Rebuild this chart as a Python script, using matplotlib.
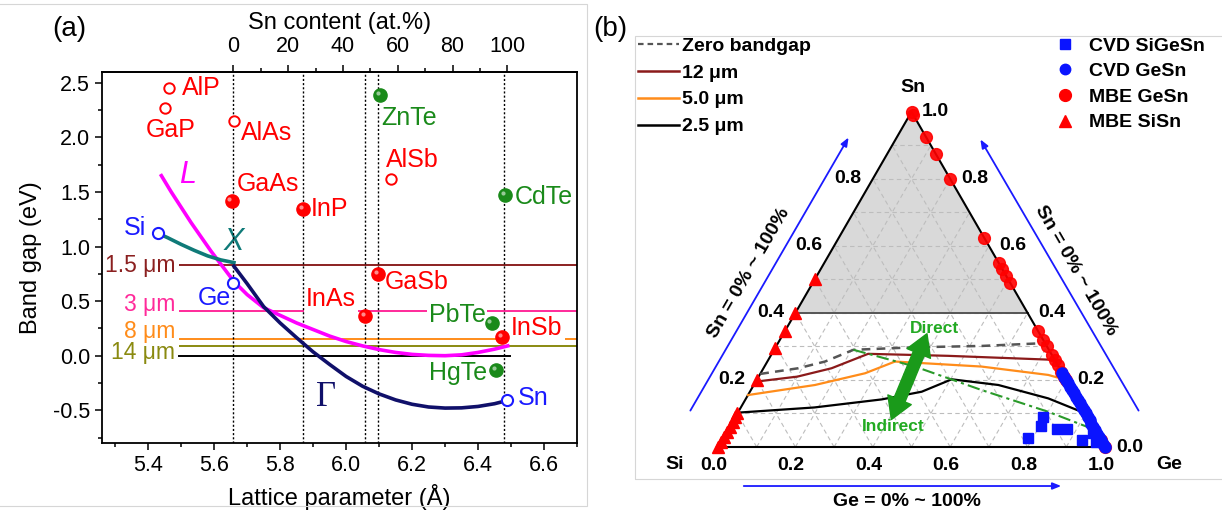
import numpy as np
import matplotlib.pyplot as plt
from matplotlib.lines import Line2D
from matplotlib.patches import Polygon, Rectangle
from matplotlib.transforms import ScaledTranslation

plt.rcParams['font.family'] = ['Liberation Sans', 'DejaVu Sans']
plt.rcParams['axes.unicode_minus'] = False

# --- Panel (a): binary compounds (lattice parameter in A, band gap in eV) ---
compounds = ["AlP", "GaP", "AlAs", "GaAs", "InP", "ZnTe", "AlSb", "CdTe",
             "GaSb", "InAs", "PbTe", "InSb", "HgTe"]
lattice = [5.464, 5.451, 5.661, 5.653, 5.869, 6.104, 6.136, 6.482,
           6.096, 6.058, 6.441, 6.472, 6.455]
gap = [2.45, 2.27, 2.15, 1.42, 1.34, 2.39, 1.62, 1.47,
       0.75, 0.36, 0.30, 0.17, -0.13]
kind = ["open", "open", "open", "III-V", "III-V", "II-VI", "open", "II-VI",
        "III-V", "III-V", "II-VI", "III-V", "II-VI"]

group4 = ["Si", "Ge", "Sn"]
group4_lattice = [5.431, 5.658, 6.489]
group4_gap = [1.12, 0.668, -0.405]

# GeSn band edges
L_a = [5.44, 5.47, 5.50, 5.53, 5.56, 5.59, 5.62, 5.66, 5.70, 5.75, 5.80, 5.85,
       5.90, 5.95, 6.00, 6.05, 6.10, 6.15, 6.20, 6.25, 6.30, 6.35, 6.40, 6.45, 6.49]
L_e = [1.65, 1.50, 1.36, 1.22, 1.09, 0.96, 0.84, 0.68, 0.56, 0.44, 0.37, 0.30,
       0.24, 0.18, 0.13, 0.09, 0.056, 0.03, 0.012, 0.003, 0.0, 0.008, 0.03, 0.06, 0.09]
X_a = [5.431, 5.46, 5.50, 5.54, 5.58, 5.62, 5.66]
X_e = [1.12, 1.08, 1.02, 0.965, 0.915, 0.878, 0.853]
G_a = [5.66, 5.70, 5.75, 5.80, 5.85, 5.90, 5.95, 6.00, 6.05, 6.10, 6.15, 6.20,
       6.25, 6.30, 6.35, 6.40, 6.45, 6.489]
G_e = [0.82, 0.66, 0.45, 0.30, 0.165, 0.035, -0.08, -0.19, -0.28, -0.35, -0.405,
       -0.445, -0.47, -0.48, -0.478, -0.465, -0.44, -0.41]

# wavelength cut-off lines
wl_labels = ["1.5 μm", "3 μm", "8 μm", "14 μm"]
wl_energy = [0.827, 0.413, 0.155, 0.089]
wl_colors = ["#8b2020", "#ff2a9a", "#ff8c1a", "#8a8a10"]

# lattice-matched guide lines
vlines = [5.658, 5.869, 6.058, 6.096, 6.479]

# --- Panel (b): ternary SiGeSn (Ge fraction, Sn fraction) ---
zero_ge = [0.0, 0.09, 0.149, 0.205, 0.36, 0.53, 0.69]
zero_sn = [0.218, 0.235, 0.255, 0.29, 0.2975, 0.3015, 0.31]
um12_ge = [0.0, 0.10, 0.176, 0.249, 0.459, 0.74]
um12_sn = [0.195, 0.21, 0.235, 0.278, 0.272, 0.26]
um5_ge = [0.0, 0.158, 0.27, 0.33, 0.561, 0.746, 0.80]
um5_sn = [0.155, 0.185, 0.22, 0.255, 0.24, 0.215, 0.20]
um25_ge = [0.0, 0.19, 0.352, 0.444, 0.503, 0.632, 0.781, 0.90]
um25_sn = [0.1025, 0.118, 0.142, 0.165, 0.202, 0.185, 0.145, 0.10]
dirind_ge = [0.205, 0.389, 0.596, 0.801, 0.949]
dirind_sn = [0.29, 0.24, 0.17, 0.105, 0.051]

cvd_sigesn_ge = [0.787, 0.796, 0.803, 0.848, 0.874, 0.929, 0.949, 0.970]
cvd_sigesn_sn = [0.026, 0.089, 0.063, 0.055, 0.055, 0.021, 0.041, 0.016]
cvd_gesn_sn = [0.0, 0.01, 0.02, 0.03, 0.04, 0.05, 0.06, 0.07, 0.08, 0.09, 0.10, 0.11,
               0.12, 0.13, 0.14, 0.15, 0.16, 0.17, 0.18, 0.19, 0.20, 0.21, 0.22]
mbe_gesn_sn = [0.0, 0.02, 0.20, 0.21, 0.225, 0.245, 0.26, 0.275, 0.30, 0.32, 0.345,
               0.49, 0.51, 0.53, 0.55, 0.625, 0.80, 0.875, 0.925, 0.99, 1.0]
mbe_sisn_sn = [0.0, 0.015, 0.03, 0.045, 0.06, 0.075, 0.09, 0.10, 0.20, 0.295,
               0.345, 0.40, 0.50]


def tern(ge, sn):
    ge = np.asarray(ge, dtype=float)
    sn = np.asarray(sn, dtype=float)
    return ge + 0.5 * sn, sn * np.sqrt(3) / 2


W, H = 1222, 513
fig = plt.figure(figsize=(W / 100, H / 100), dpi=100)

# light frames around both panels
fig.patches.append(Rectangle((-2 / W, 1 - 506 / H), 589 / W, 502 / H, transform=fig.transFigure,
                             fill=False, ec="#d6d6d6", lw=0.8))
fig.patches.append(Rectangle((635 / W, 1 - 479 / H), 600 / W, 443 / H, transform=fig.transFigure,
                             fill=False, ec="#d6d6d6", lw=0.8))

# =================== panel (a) ===================
ax = fig.add_axes([102 / W, 1 - 443 / H, 475 / W, 371 / H])
ax.set_xlim(5.26, 6.70)
ax.set_ylim(-0.8, 2.6)

for x in vlines:
    ax.axvline(x, color="black", ls=(0, (1.5, 1.5)), lw=1.0, zorder=4)

for e, c in zip(wl_energy, wl_colors):
    ax.plot([5.494, 6.70], [e, e], color=c, lw=1.4, zorder=1, solid_capstyle="butt")
ax.plot([5.494, 6.497], [0, 0], color="black", lw=1.4, zorder=1)

ax.plot(L_a, L_e, color="#ff00ff", lw=2.6, zorder=5)
ax.plot(X_a, X_e, color="#0f7a78", lw=2.6, zorder=5)
ax.plot(G_a, G_e, color="#10106a", lw=2.6, zorder=5)

hl = ax.transData + ScaledTranslation(-1.6 / 72, 1.6 / 72, fig.dpi_scale_trans)
for a, e, k in zip(lattice, gap, kind):
    if k == "open":
        ax.plot(a, e, "o", ms=7.5, mfc="white", mec="red", mew=1.4, zorder=6)
    else:
        col = "red" if k == "III-V" else "#1a8a1a"
        ax.plot(a, e, "o", ms=9.5, mfc=col, mec=col, zorder=6)
        ax.plot(a, e, "o", ms=3, mfc="white", mec="none", alpha=0.55, zorder=7, transform=hl)
ax.plot(group4_lattice, group4_gap, "o", ls="none", ms=8, mfc="white", mec="#1a1aff", mew=1.5, zorder=7)

red, green, blue = "red", "#1a8a1a", "#1a1aff"
lab_fs = 18
wbox = dict(fc="white", ec="none", pad=1.5)
text_a = [
    ("AlP", 5.503, 2.455, "left", red, None),
    ("GaP", 5.392, 2.07, "left", red, None),
    ("AlAs", 5.680, 2.04, "left", red, None),
    ("GaAs", 5.667, 1.57, "left", red, None),
    ("InP", 5.894, 1.34, "left", red, None),
    ("ZnTe", 6.108, 2.18, "left", green, None),
    ("AlSb", 6.120, 1.79, "left", red, None),
    ("CdTe", 6.510, 1.45, "left", green, None),
    ("GaSb", 6.118, 0.68, "left", red, None),
    ("InAs", 5.879, 0.52, "left", red, wbox),
    ("PbTe", 6.250, 0.37, "left", green, wbox),
    ("InSb", 6.500, 0.25, "left", red, wbox),
    ("HgTe", 6.250, -0.16, "left", green, None),
    ("Si", 5.395, 1.17, "right", blue, None),
    ("Ge", 5.650, 0.53, "right", blue, None),
    ("Sn", 6.520, -0.39, "left", blue, None),
]
for s, x, y, ha, c, bb in text_a:
    ax.text(x, y, s, color=c, fontsize=lab_fs, ha=ha, va="center", zorder=3, bbox=bb)

wl_text_y = [0.827, 0.47, 0.22, 0.025]
for s, y, c in zip(wl_labels, wl_text_y, wl_colors):
    ax.text(5.482, y, s, color=c, fontsize=16.5, ha="right", va="center", zorder=3)

ax.text(5.52, 1.66, "L", color="#ff00ff", fontsize=22, style="italic", ha="center", va="center")
ax.text(5.66, 1.04, "X", color="#0f7a78", fontsize=22, style="italic", ha="center", va="center")
ax.text(5.94, -0.38, "Γ", color="#10106a", fontsize=25, family="Liberation Serif",
        ha="center", va="center")

ax.set_xticks(np.arange(5.4, 6.61, 0.2))
ax.set_xticks(np.arange(5.3, 6.71, 0.1), minor=True)
ax.set_yticks(np.arange(-0.5, 2.51, 0.5))
ax.set_yticks(np.arange(-0.75, 2.6, 0.25), minor=True)
ax.xaxis.set_major_formatter(plt.FormatStrFormatter("%.1f"))
ax.yaxis.set_major_formatter(plt.FormatStrFormatter("%.1f"))
ax.tick_params(which="both", direction="out", labelsize=15.5, width=1.1, top=False, right=False)
ax.tick_params(which="major", length=5)
ax.tick_params(which="minor", length=3)
for sp in ax.spines.values():
    sp.set_linewidth(1.3)
ax.set_xlabel("Lattice parameter (Å)", fontsize=17, labelpad=6)
ax.set_ylabel("Band gap (eV)", fontsize=17, labelpad=8)


def a2sn(a):
    return (np.asarray(a) - 5.658) / (6.489 - 5.658) * 100


def sn2a(s):
    return 5.658 + np.asarray(s) / 100 * (6.489 - 5.658)


top = ax.secondary_xaxis("top", functions=(a2sn, sn2a))
top.set_xticks(np.arange(0, 101, 20))
top.set_xticks(np.arange(10, 100, 20), minor=True)
top.tick_params(which="both", direction="out", labelsize=15.5, width=1.1, pad=6)
top.tick_params(which="major", length=5)
top.tick_params(which="minor", length=3)
top.spines["top"].set_linewidth(1.3)
top.set_xlabel("Sn content (at.%)", fontsize=17, labelpad=5)

fig.text(69 / W, 1 - 29 / H, "(a)", fontsize=20, ha="center", va="center")
fig.text(610 / W, 1 - 29 / H, "(b)", fontsize=20, ha="center", va="center")

# =================== panel (b) ===================
bx = fig.add_axes([634 / W, 0, 588 / W, 1])
bx.set_xlim(-84 / 387, 504 / 387)
bx.set_ylim(-66 / 387, 447 / 387)
bx.axis("off")

# shaded region Sn >= 0.4
px, py = tern([0.0, 0.6, 0.0], [0.4, 0.4, 1.0])
bx.add_patch(Polygon(np.column_stack([px, py]), closed=True, fc="#d9d9d9", ec="none", zorder=0))

# dashed grid every 0.1
for k in range(1, 10):
    f = k / 10
    for ge, sn in (([0, 1 - f], [f, f]), ([f, f], [0, 1 - f]), ([1 - f, 0], [0, 1 - f])):
        gx, gy = tern(ge, sn)
        bx.plot(gx, gy, color="#bdbdbd", lw=0.8, ls=(0, (4, 3)), zorder=1)

gx, gy = tern([0, 0.6], [0.4, 0.4])
bx.plot(gx, gy, color="#555555", lw=1.4, zorder=2)
gx, gy = tern([0, 1, 0, 0], [0, 0, 1, 0])
bx.plot(gx, gy, color="black", lw=1.5, zorder=2)

bx.plot(*tern(zero_ge, zero_sn), color="#555555", lw=1.8, ls=(0, (3.5, 2.5)), zorder=3)
bx.plot(*tern(um12_ge, um12_sn), color="#8b1a1a", lw=1.6, zorder=3)
bx.plot(*tern(um5_ge, um5_sn), color="#ff8c1a", lw=1.6, zorder=3)
bx.plot(*tern(um25_ge, um25_sn), color="black", lw=1.6, zorder=3)
bx.plot(*tern(dirind_ge, dirind_sn), color="#2a9a2a", lw=1.5, ls=(0, (6, 2, 1.5, 2)), zorder=3)

# direct / indirect arrow
mid = tern(0.389, 0.21)
for end in (tern(0.371, 0.338), tern(0.407, 0.082)):
    bx.annotate("", xy=end, xytext=mid, zorder=4,
                arrowprops=dict(arrowstyle="simple,head_width=1.3,head_length=1.1,tail_width=0.6",
                                mutation_scale=14, fc="#1a9a1a", ec="#1a9a1a", shrinkA=0, shrinkB=0))
bx.text(*tern(0.381, 0.355), "Direct", color="#22aa22", fontsize=12.5, fontweight="bold",
        ha="center", va="center")
bx.text(*tern(0.423, 0.06), "Indirect", color="#22aa22", fontsize=12.5, fontweight="bold",
        ha="center", va="center")

# data markers
mbe_sisn_ge = [0.0] * len(mbe_sisn_sn)
bx.plot(*tern(mbe_sisn_ge, mbe_sisn_sn), "^", ls="none", ms=8.5, color="red", zorder=5, clip_on=False)
bx.plot(*tern(1 - np.array(mbe_gesn_sn), mbe_gesn_sn), "o", ls="none", ms=8.5, color="red",
        alpha=0.9, zorder=5, clip_on=False)
bx.plot(*tern(1 - np.array(cvd_gesn_sn), cvd_gesn_sn), "o", ls="none", ms=8, color="#0a14ff",
        zorder=6, clip_on=False)
bx.plot(*tern(cvd_sigesn_ge, cvd_sigesn_sn), "s", ls="none", ms=7.5, color="#0a14ff", zorder=6)

# axis tick labels
tfs = 14
for v in (0.2, 0.4, 0.6, 0.8):
    bx.annotate(f"{v:.1f}", tern(0, v), xytext=(-18, 0), textcoords="offset points",
                ha="center", va="center", fontsize=tfs, fontweight="bold")
for v in (0.0, 0.2, 0.4, 0.6, 0.8, 1.0):
    bx.annotate(f"{v:.1f}", tern(1 - v, v), xytext=(17.5, 0), textcoords="offset points",
                ha="center", va="center", fontsize=tfs, fontweight="bold")
    bx.annotate(f"{v:.1f}", tern(v, 0), xytext=(-3, -13.5), textcoords="offset points",
                ha="center", va="center", fontsize=tfs, fontweight="bold")
bx.text(-0.111, -0.0465, "Si", fontsize=tfs, fontweight="bold", ha="center", va="center")
bx.text(1.165, -0.0465, "Ge", fontsize=tfs, fontweight="bold", ha="center", va="center")
bx.text(0.504, 0.928, "Sn", fontsize=tfs, fontweight="bold", ha="center", va="center")

# composition arrows
arw = dict(arrowstyle="-|>,head_length=0.5,head_width=0.2", color="#1a1aff", lw=1.3)
bx.annotate("", xy=(0.341, 0.806), xytext=(-0.075, 0.0879), arrowprops=arw)
bx.annotate("", xy=(0.6744, 0.801), xytext=(1.0904, 0.0879), arrowprops=arw)
bx.annotate("", xy=(0.894, -0.1008), xytext=(0.0594, -0.1008), arrowprops=arw)
bx.text(0.0793, 0.4496, "Sn = 0% ~ 100%", rotation=60, fontsize=tfs, fontweight="bold",
        ha="center", va="center", rotation_mode="anchor")
bx.text(0.925, 0.457, "Sn = 0% ~ 100%", rotation=-60, fontsize=tfs, fontweight="bold",
        ha="center", va="center", rotation_mode="anchor")
bx.text(0.488, -0.142, "Ge = 0% ~ 100%", fontsize=tfs, fontweight="bold", ha="center", va="center")

# legends
h1 = [Line2D([], [], color="#555555", lw=1.6, ls=(0, (2.5, 1.8))),
      Line2D([], [], color="#8b1a1a", lw=1.8),
      Line2D([], [], color="#ff8c1a", lw=1.8),
      Line2D([], [], color="black", lw=1.8)]
leg1 = bx.legend(h1, ["Zero bandgap", "12 μm", "5.0 μm", "2.5 μm"], loc="upper left",
                 bbox_to_anchor=(638 / W, 1 - 37 / H), bbox_transform=fig.transFigure,
                 frameon=False, handlelength=2.1, handletextpad=0.15, labelspacing=0.48,
                 borderpad=0, borderaxespad=0, prop=dict(size=14, weight="bold"))
bx.add_artist(leg1)
h2 = [Line2D([], [], marker="s", ls="none", ms=7, color="#0a14ff"),
      Line2D([], [], marker="o", ls="none", ms=7.5, color="#0a14ff"),
      Line2D([], [], marker="o", ls="none", ms=8.5, color="red"),
      Line2D([], [], marker="^", ls="none", ms=8.5, color="red")]
bx.legend(h2, ["CVD SiGeSn", "CVD GeSn", "MBE GeSn", "MBE SiSn"], loc="upper left",
          bbox_to_anchor=(1054 / W, 1 - 37 / H), bbox_transform=fig.transFigure,
          frameon=False, handlelength=1.1, handletextpad=0.7, labelspacing=0.41,
          borderpad=0, borderaxespad=0, prop=dict(size=14, weight="bold"))

fig.savefig("out.png", dpi=100)
